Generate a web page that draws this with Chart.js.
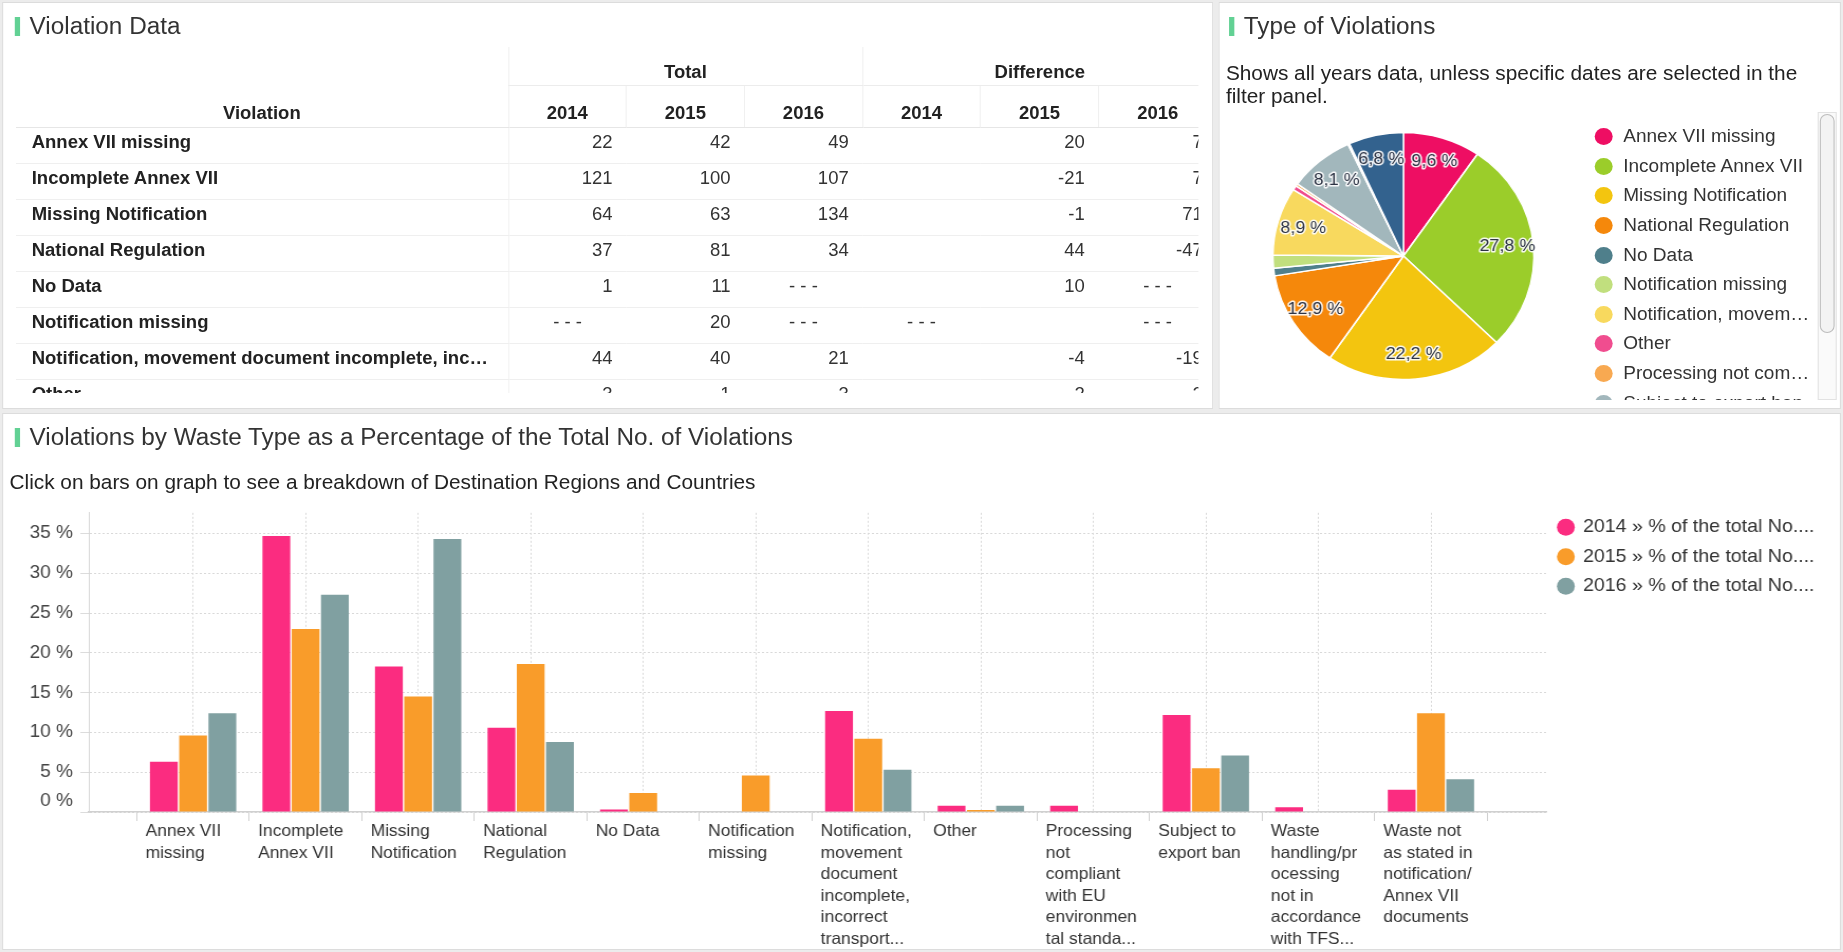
<!DOCTYPE html>
<html>
<head>
<meta charset="utf-8">
<title>Violations</title>
<script src="https://cdn.jsdelivr.net/npm/chart.js@4.4.0/dist/chart.umd.min.js"></script>
<style>
  html, body { margin: 0; padding: 0; background: #ececec; overflow: hidden; }
  body { width: 1843px; height: 952px; font-family: "Liberation Sans", Arial, sans-serif; color: #333; }
  /* dashboard is laid out at 1744px and widened to the window */
  #page { position: absolute; left: 0; top: 0; width: 1744px; height: 952px; transform: scaleX(1.0568); transform-origin: 0 0; }
  .panel { position: absolute; background: #fff; border: 1px solid #dcdcdc; box-sizing: border-box; }
  .title { position: absolute; font-size: 23px; line-height: 28px; color: #333; white-space: nowrap; }
  .mark { position: absolute; width: 5px; height: 19px; background: #62d194; }
  .note { position: absolute; font-size: 19.7px; line-height: 23px; color: #222; }

  #tableClip { position: absolute; left: 15px; top: 47px; width: 1119px; height: 346px; overflow: hidden; }
  #violTable { border-collapse: collapse; table-layout: fixed; width: 1136px; font-size: 17.5px; color: #333; }
  #violTable th { font-weight: bold; color: #222; text-align: center; vertical-align: bottom; padding: 0; }
  #violTable tr.h1 th { height: 36px; padding-bottom: 2px; }
  #violTable tr.h1 th.grp { border-bottom: 1px solid #ececec; border-left: 1px solid #f0f0f0; }
  #violTable tr.h2 th { height: 38px; padding-bottom: 3px; border-bottom: 1px solid #e6e6e6; }
  #violTable tr.h2 th.yr { border-left: 1px solid #f0f0f0; }
  #violTable td { height: 29px; padding: 0 13px 6px 0; border-bottom: 1px solid #efefef; text-align: right; white-space: nowrap; overflow: hidden; }
  #violTable td.name { text-align: left; font-weight: bold; color: #222; padding-left: 15px; padding-right: 10px; text-overflow: ellipsis; border-right: 1px solid #f2f2f2; }
  #violTable td.dash { text-align: center; padding-right: 0; }

  #pieLegend { position: absolute; left: 1506px; top: 122px; width: 212px; height: 278px; overflow: hidden; }
  .litem { display: flex; align-items: center; height: 29.6px; font-size: 18px; color: #333; }
  .ldot { flex: none; width: 17px; height: 17px; border-radius: 50%; margin-left: 3px; margin-right: 10px; }
  .ltext { white-space: nowrap; overflow: hidden; text-overflow: ellipsis; max-width: 186px; }
  #track { position: absolute; left: 1720px; top: 112px; width: 18px; height: 288px; border: 1px solid #e2e2e2; box-sizing: border-box; background: #fafafa; }
  #thumb { position: absolute; left: 1722px; top: 114px; width: 14px; height: 219px; border: 1px solid #bdbdbd; border-radius: 7px; box-sizing: border-box; background: #f3f3f3; }

  canvas { position: absolute; }
</style>
</head>
<body>
<div id="page">
  <div class="panel" style="left:2px; top:2px; width:1146px; height:407px;"></div>
  <div class="panel" style="left:1153px; top:2px; width:589px; height:407px;"></div>
  <div class="panel" style="left:2px; top:413px; width:1740px; height:537px;"></div>

  <div class="mark" style="left:14px; top:17px;"></div>
  <div class="title" style="left:28px; top:12px;">Violation Data</div>
  <div id="tableClip"><table id="violTable"></table></div>

  <div class="mark" style="left:1163px; top:17px;"></div>
  <div class="title" style="left:1177px; top:12px;">Type of Violations</div>
  <div class="note" style="left:1160px; top:62px; width:575px;">Shows all years data, unless specific dates are selected in the filter panel.</div>
  <canvas id="pieChart" width="260" height="260" style="left:1198px; top:126px;"></canvas>
  <div id="pieLegend"></div>
  <div id="track"></div>
  <div id="thumb"></div>

  <div class="mark" style="left:14px; top:428px;"></div>
  <div class="title" style="left:28px; top:423px;">Violations by Waste Type as a Percentage of the Total No. of Violations</div>
  <div class="note" style="left:9px; top:471px;">Click on bars on graph to see a breakdown of Destination Regions and Countries</div>
  <canvas id="barChart" width="1744" height="457" style="left:0; top:495px;"></canvas>
</div>

<script>
// Violation types
const violationTypes = [
  'Annex VII missing',
  'Incomplete Annex VII',
  'Missing Notification',
  'National Regulation',
  'No Data',
  'Notification missing',
  'Notification, movement document incomplete, incorrect transport...',
  'Other',
  'Processing not compliant with EU environmental standa...',
  'Subject to export ban',
  'Waste handling/processing not in accordance with TFS...',
  'Waste not as stated in notification/Annex VII documents'
];

// wrapped x axis labels
const axisLabelLines = [
  ['Annex VII', 'missing'],
  ['Incomplete', 'Annex VII'],
  ['Missing', 'Notification'],
  ['National', 'Regulation'],
  ['No Data'],
  ['Notification', 'missing'],
  ['Notification,', 'movement', 'document', 'incomplete,', 'incorrect', 'transport...'],
  ['Other'],
  ['Processing', 'not', 'compliant', 'with EU', 'environmen', 'tal standa...'],
  ['Subject to', 'export ban'],
  ['Waste', 'handling/pr', 'ocessing', 'not in', 'accordance', 'with TFS...'],
  ['Waste not', 'as stated in', 'notification/', 'Annex VII', 'documents']
];

// % of the total number of violations per year
const years = ['2014', '2015', '2016'];
const share2014 = [6.3, 34.7, 18.3, 10.6, 0.3, null, 12.7, 0.8, 0.8, 12.2, 0.6, 2.8];
const share2015 = [9.6, 23.0, 14.5, 18.6, 2.4, 4.6, 9.2, 0.25, null, 5.5, null, 12.4];
const share2016 = [12.4, 27.3, 34.3, 8.8, null, null, 5.3, 0.8, null, 7.1, null, 4.1];
const yearColors = ['#fb2c80', '#f99c2a', '#80a0a1'];
const yTicks = [0, 5, 10, 15, 20, 25, 30, 35];

// all years, share of each type (%)
const pieShares = [9.6, 27.8, 22.2, 12.9, 1.0, 1.7, 8.9, 0.6, 0.3, 8.1, 0.2, 6.8];
const pieColors = ['#ee0e63', '#9bcd2a', '#f3c50f', '#f5880b', '#4f7f8b', '#c1df7e',
                   '#f8d95e', '#f04d8f', '#f8a951', '#a2b7bc', '#cddbde', '#33628e'];

// table: totals and year-on-year differences (null = no value)
const tableNames = violationTypes.slice(0, 8);
const total2014 = [22, 121, 64, 37, 1, null, 44, 3];
const total2015 = [42, 100, 63, 81, 11, 20, 40, 1];
const total2016 = [49, 107, 134, 34, null, null, 21, 3];
const diff2014 = ['', '', '', '', '', null, '', ''];
const diff2015 = [20, -21, -1, 44, 10, '', -4, -2];
const diff2016 = [7, 7, 71, -47, null, null, -19, 2];

Chart.defaults.font.family = '"Liberation Sans", Arial, sans-serif';
Chart.defaults.color = '#333';

// Таблица
function buildTable() {
  const table = document.getElementById('violTable');
  let html = '<colgroup><col style="width:466px">' + '<col style="width:111.7px">'.repeat(6) + '</colgroup>';
  html += '<tr class="h1"><th rowspan="2" style="border-bottom:1px solid #e6e6e6; padding-bottom:3px">Violation</th>' +
          '<th class="grp" colspan="3">Total</th><th class="grp" colspan="3">Difference</th></tr>';
  html += '<tr class="h2">' + years.concat(years).map(y => '<th class="yr">' + y + '</th>').join('') + '</tr>';
  const cell = v => v === null ? '<td class="dash">- - -</td>' : '<td>' + v + '</td>';
  tableNames.forEach((name, i) => {
    html += '<tr><td class="name">' + name + '</td>' +
      [total2014, total2015, total2016, diff2014, diff2015, diff2016].map(col => cell(col[i])).join('') + '</tr>';
  });
  table.innerHTML = html;
}

// Легенда круговой диаграммы
function buildPieLegend() {
  const box = document.getElementById('pieLegend');
  box.innerHTML = violationTypes.map((name, i) =>
    '<div class="litem"><span class="ldot" style="background:' + pieColors[i] + '"></span>' +
    '<span class="ltext">' + name + '</span></div>').join('');
}

// percentage labels inside the larger slices
const sliceLabels = {
  id: 'sliceLabels',
  afterDatasetsDraw(chart) {
    const ctx = chart.ctx;
    const meta = chart.getDatasetMeta(0);
    ctx.save();
    ctx.font = '17px "Liberation Sans", Arial, sans-serif';
    ctx.textAlign = 'center';
    ctx.textBaseline = 'middle';
    ctx.lineJoin = 'round';
    meta.data.forEach((arc, i) => {
      const v = pieShares[i];
      if (v < 5) return;
      const p = arc.getProps(['x', 'y', 'startAngle', 'endAngle', 'outerRadius'], true);
      const mid = (p.startAngle + p.endAngle) / 2;
      const r = p.outerRadius * 0.8;
      const tx = p.x + Math.cos(mid) * r;
      const ty = p.y + Math.sin(mid) * r;
      const text = v.toFixed(1).replace('.', ',') + ' %';
      ctx.strokeStyle = 'rgba(255,255,255,0.9)';
      ctx.lineWidth = 3;
      ctx.strokeText(text, tx, ty);
      ctx.fillStyle = '#2d3445';
      ctx.fillText(text, tx, ty);
    });
    ctx.restore();
  }
};

function drawPie() {
  new Chart(document.getElementById('pieChart'), {
    type: 'pie',
    data: {
      labels: violationTypes,
      datasets: [{
        data: pieShares,
        backgroundColor: pieColors,
        borderColor: '#ffffff',
        borderWidth: 1.5,
        radius: 123.5
      }]
    },
    options: {
      responsive: false,
      animation: false,
      events: [],
      radius: 123.5,
      layout: { padding: 0 },
      plugins: { legend: { display: false }, tooltip: { enabled: false } }
    },
    plugins: [sliceLabels]
  });
}

function drawBars() {
  const series = [share2014, share2015, share2016];
  // x range leaves a gap before the first and after the last category
  const xMin = -0.927;
  const xMax = 12.03;

  new Chart(document.getElementById('barChart'), {
    type: 'bar',
    data: {
      datasets: years.map((yr, k) => ({
        label: yr + ' » % of the total No....',
        data: series[k].map((v, i) => ({ x: i, y: v })),
        backgroundColor: yearColors[k],
        barPercentage: 0.95,
        categoryPercentage: 0.78,
        xAxisID: 'x',
        yAxisID: 'y'
      }))
    },
    options: {
      responsive: false,
      animation: false,
      events: [],
      layout: { padding: { top: 12, right: 17, left: 0, bottom: 0 } },
      plugins: {
        tooltip: { enabled: false },
        legend: {
          position: 'right',
          align: 'start',
          labels: {
            usePointStyle: true,
            pointStyle: 'circle',
            boxWidth: 14,
            boxHeight: 12,
            padding: 11,
            color: '#333',
            font: { size: 18.5 }
          }
        }
      },
      scales: {
        // tick marks on the category boundaries
        xt: {
          type: 'linear',
          position: 'bottom',
          weight: 0,
          min: xMin,
          max: xMax,
          bounds: 'data',
          offset: false,
          afterBuildTicks: s => { s.ticks = axisLabelLines.concat([[]]).map((_, i) => ({ value: i - 0.5 })); },
          ticks: { display: false },
          grid: { offset: false, drawOnChartArea: false, drawTicks: true, tickLength: 9, tickColor: '#d0d0d0' },
          border: { display: true, color: '#d0d0d0', width: 1.5 }
        },
        x: {
          type: 'linear',
          position: 'bottom',
          weight: 1,
          min: xMin,
          max: xMax,
          bounds: 'data',
          offset: false,
          afterBuildTicks: s => { s.ticks = axisLabelLines.map((_, i) => ({ value: i })); },
          afterFit: s => { s.height = 131; },
          ticks: {
            autoSkip: false,
            maxRotation: 0,
            minRotation: 0,
            align: 'start',
            labelOffset: -45,
            padding: 0,
            color: '#333',
            font: { size: 16.5, lineHeight: 1.3 },
            callback: v => axisLabelLines[v]
          },
          grid: { offset: false, drawTicks: false, color: '#d9d9d9' },
          border: { display: false, dash: [2, 2] }
        },
        y: {
          min: 0,
          max: 37.6,
          afterBuildTicks: s => { s.ticks = yTicks.map(v => ({ value: v })); },
          afterFit: s => { s.width = 84; },
          ticks: {
            autoSkip: false,
            padding: 7,
            color: '#444',
            font: { size: 18 },
            callback: v => v === 0 ? ['0 %', ''] : v + ' %'
          },
          grid: { color: '#d9d9d9', tickLength: 8, tickColor: '#dcdcdc' },
          border: { display: true, color: '#d6d6d6', dash: [2, 2] }
        }
      }
    }
  });
}

buildTable();
buildPieLegend();
drawPie();
drawBars();
</script>
</body>
</html>
